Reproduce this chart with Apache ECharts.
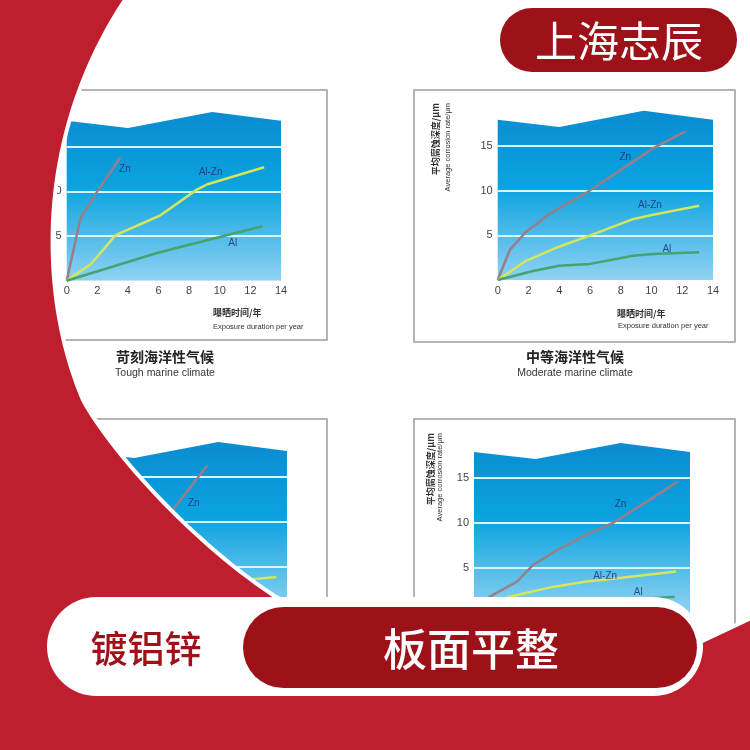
<!DOCTYPE html>
<html><head><meta charset="utf-8">
<script src="https://cdn.jsdelivr.net/npm/echarts@6/dist/echarts.min.js"></script>
<style>html,body{margin:0;padding:0;background:#fff}#c{width:750px;height:750px}</style>
</head><body><div id="c"></div>
<script>
// ---- data ----
const seriesNames = ['Zn', 'Al-Zn', 'Al'];
const backdropX = [0, 4, 9.5, 14];
const backdropY = [17.9, 17.1, 18.9, 17.9];
const gridValues = [5, 10, 15];

const toughZn = [[0,0],[0.9,7.0],[2.0,10.0],[3.5,13.8]];
const toughAlZn = [[0,0],[1.6,1.9],[3.2,5.1],[6.1,7.3],[8.5,10.2],[9.2,10.8],[12.9,12.7]];
const toughAl = [[0,0],[5.9,3.1],[9.8,4.8],[12.8,6.1]];
const toughLabels = [[3.8,12.5],[9.4,12.2],[10.85,4.2]];

const moderateZn = [[0,0],[0.8,3.4],[1.8,5.3],[3.3,7.3],[6.0,10.0],[10.1,14.7],[12.2,16.6]];
const moderateAlZn = [[0,0],[1.8,2.1],[3.8,3.6],[6.2,5.1],[8.8,6.8],[10.1,7.3],[13.1,8.3]];
const moderateAl = [[0,0],[2.3,1.0],[4.0,1.6],[6.0,1.8],[8.8,2.7],[10.1,2.9],[13.1,3.1]];
const moderateLabels = [[8.3,13.7],[9.9,8.4],[11.0,3.4]];

const lowerLeftZn = [[0,0],[1,3.0],[3,6.0],[5,8.5],[6.5,11.3],[8.8,16.3]];
const lowerLeftAlZn = [[0,0],[4,1.8],[9,3.0],[11.6,3.6],[13.3,3.9]];
const lowerLeftAl = [[0,0],[6,1.0],[13,1.6]];
const lowerLeftLabels = [[7.9,12.1]];

const lowerRightZn = [[0,0],[1.0,1.8],[2.8,3.5],[3.8,5.3],[5.4,7.0],[7.3,8.7],[9.0,10.0],[11.4,12.6],[13.2,14.6]];
const lowerRightAlZn = [[0,0],[2.3,1.8],[5.1,2.9],[7.3,3.5],[9.0,3.8],[13.1,4.6]];
const lowerRightAl = [[0,0],[4.0,0.8],[9.0,1.4],[13.0,1.8]];
const lowerRightLabels = [[9.5,12.1],[8.5,4.1],[10.65,2.3]];

const xTickInterval = 2, xMax = 14, yTickInterval = 5, yMax = 20;

// ---- layout ----
const panels = [
  {grid:{left:66.7, top:102.1, width:214.3, height:178.6}, lines:[toughZn, toughAlZn, toughAl], labels:toughLabels},
  {grid:{left:497.7, top:101, width:215.3, height:179}, lines:[moderateZn, moderateAlZn, moderateAl], labels:moderateLabels},
  {grid:{left:73, top:432, width:214, height:180}, lines:[lowerLeftZn, lowerLeftAlZn, lowerLeftAl], labels:lowerLeftLabels},
  {grid:{left:474, top:433, width:216, height:180}, lines:[lowerRightZn, lowerRightAlZn, lowerRightAl], labels:lowerRightLabels}
];
const lineColors = ['#987e87', '#d4e65a', '#45a36f'];
const blueGrad = {type:'linear', x:0, y:0, x2:0, y2:1, colorStops:[
  {offset:0, color:'#0a8cd2'}, {offset:0.45, color:'#0ba3e0'}, {offset:1, color:'#90d2f2'}]};

const grids = [], xAxes = [], yAxes = [], series = [];
panels.forEach((p, i) => {
  grids.push(Object.assign({outerBoundsMode:'none', containLabel:false}, p.grid));
  xAxes.push({type:'value', gridIndex:i, min:0, max:xMax, interval:xTickInterval,
    axisLine:{show:false}, axisTick:{show:false}, splitLine:{show:false},
    axisLabel:{color:'#444', fontSize:11, margin:5, fontFamily:'Liberation Sans'}});
  yAxes.push({type:'value', gridIndex:i, min:0, max:yMax, interval:yTickInterval,
    axisLine:{show:false}, axisTick:{show:false}, splitLine:{show:false},
    axisLabel:{color:'#444', fontSize:11, margin:5, showMinLabel:false, showMaxLabel:false, fontFamily:'Liberation Sans'}});
  series.push({type:'line', xAxisIndex:i, yAxisIndex:i, silent:true, z:1,
    data: backdropX.map((x, k) => [x, backdropY[k]]), symbol:'none',
    lineStyle:{width:0}, areaStyle:{color:blueGrad, opacity:1},
    markLine:{silent:true, symbol:'none', label:{show:false}, z:3,
      lineStyle:{color:'#d6f7ff', width:2, type:'solid'},
      data: gridValues.map(v => ({yAxis:v}))}});
  p.lines.forEach((d, k) => {
    series.push({type:'line', name:seriesNames[k], xAxisIndex:i, yAxisIndex:i, z:10,
      data:d, symbol:'none', lineStyle:{color:lineColors[k], width:2.5}});
  });
  series.push({type:'scatter', xAxisIndex:i, yAxisIndex:i, z:11, symbolSize:0,
    data: p.labels.map((v, k) => ({name:seriesNames[k], value:v})),
    label:{show:true, position:'inside', formatter:'{b}', color:'#1d2c6c', fontSize:10, fontFamily:'Liberation Sans'}});
});

// ---- decoration ----
function bez(p0, p1, p2, p3, n) {
  const pts = [];
  for (let i = 0; i <= n; i++) {
    const t = i / n, u = 1 - t;
    pts.push([u*u*u*p0[0] + 3*u*u*t*p1[0] + 3*u*t*t*p2[0] + t*t*t*p3[0],
              u*u*u*p0[1] + 3*u*u*t*p1[1] + 3*u*t*t*p2[1] + t*t*t*p3[1]]);
  }
  return pts;
}
const redPts = [[-10,-10],[130,-10]]
  .concat(bez([125,0],[95,45],[58,120],[53,220],30))
  .concat(bez([53,220],[50,290],[62,350],[83,400],30))
  .concat(bez([83,400],[110,450],[190,540],[273,595],30))
  .concat(bez([273,595],[360,650],[560,660],[700,642],20))
  .concat([[760,614],[760,760],[-10,760]]);

function txt(text, x, y, font, fill, align, extra) {
  return Object.assign({type:'text', x:x, y:y, z:5,
    style:{text:text, font:font, fill:fill, textAlign:align || 'center', textVerticalAlign:'middle'}}, extra || {});
}
const cjk = '"Noto Sans CJK SC"';
const boxStyle = {fill:'none', stroke:'#9c9c9c', lineWidth:1.5};
const graphics = [
  {type:'rect', z:0, shape:{x:7, y:90, width:320, height:250}, style:boxStyle},
  {type:'rect', z:0, shape:{x:414, y:90, width:321, height:252}, style:boxStyle},
  {type:'rect', z:0, shape:{x:7, y:419, width:320, height:250}, style:boxStyle},
  {type:'rect', z:0, shape:{x:414, y:419, width:321, height:250}, style:boxStyle},
  // axis names
  txt('曝晒时间/年', 617, 314, 'bold 9px ' + cjk, '#333', 'left'),
  txt('Exposure duration per year', 618, 326, '7.5px "Liberation Sans"', '#333', 'left'),
  txt('曝晒时间/年', 213, 313, 'bold 9px ' + cjk, '#333', 'left'),
  txt('Exposure duration per year', 213, 327, '7.5px "Liberation Sans"', '#333', 'left'),
  txt('平均腐蚀深度/μm', 436, 103, 'bold 9px ' + cjk, '#333', 'right', {rotation:Math.PI/2}),
  txt('Average corrosion rate/μm', 447.5, 103, '7.5px "Liberation Sans"', '#333', 'right', {rotation:Math.PI/2}),
  txt('平均腐蚀深度/μm', 430.5, 433, 'bold 9px ' + cjk, '#333', 'right', {rotation:Math.PI/2}),
  txt('Average corrosion rate/μm', 440, 433, '7.5px "Liberation Sans"', '#333', 'right', {rotation:Math.PI/2}),
  txt('平均腐蚀深度/μm', 6, 104, 'bold 9px ' + cjk, '#333', 'right', {rotation:Math.PI/2}),
  txt('Average corrosion rate/μm', 17, 104, '7.5px "Liberation Sans"', '#333', 'right', {rotation:Math.PI/2}),
  // titles
  txt('苛刻海洋性气候', 165, 357, 'bold 14px ' + cjk, '#222'),
  txt('Tough marine climate', 165, 373, '10.5px "Liberation Sans"', '#333'),
  txt('中等海洋性气候', 575, 357, 'bold 14px ' + cjk, '#222'),
  txt('Moderate marine climate', 575, 373, '10.5px "Liberation Sans"', '#333'),
  // red backdrop
  {type:'polygon', z:100, shape:{points:redPts}, style:{fill:'#be1e2d', stroke:'#ffffff', lineWidth:4}},
  // top badge
  {type:'rect', z:110, shape:{x:500, y:8, width:237, height:64, r:32}, style:{fill:'#9d1219'}},
  txt('上海志辰', 619, 41, '42px ' + cjk, '#ffffff', 'center', {z:111}),
  // bottom banner
  {type:'rect', z:110, shape:{x:47, y:597, width:656, height:99, r:49.5}, style:{fill:'#ffffff'}},
  {type:'rect', z:111, shape:{x:243, y:607, width:454, height:81, r:40.5}, style:{fill:'#9d1219'}},
  txt('镀铝锌', 146, 649, '500 37px ' + cjk, '#9d1219', 'center', {z:112}),
  txt('板面平整', 471, 649, '500 44px ' + cjk, '#ffffff', 'center', {z:112})
];

const chart = echarts.init(document.getElementById('c'), null, {renderer:'canvas'});
chart.setOption({
  animation:false,
  backgroundColor:'#ffffff',
  grid:grids, xAxis:xAxes, yAxis:yAxes, series:series,
  graphic:{elements:graphics}
});
</script></body></html>
